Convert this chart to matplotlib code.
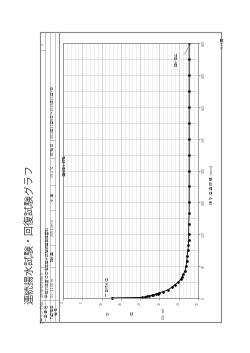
import matplotlib
matplotlib.use("Agg")
import matplotlib.pyplot as plt
from matplotlib.lines import Line2D

plt.rcParams['font.family'] = ['Noto Sans CJK JP', 'DejaVu Sans']

# elapsed pumping time (min) and water level (GL-m)
static_time = [0]
static_level = [12.6]
times = [1, 2, 3, 4, 5, 6, 7, 8, 10, 12, 15, 20, 25, 30, 35, 40, 45, 50, 60,
         70, 80, 90, 100, 110, 120, 140, 160, 180, 210, 240, 270, 300, 330,
         360, 390, 420, 450, 480]
levels = [20.6, 21.3, 21.9, 22.4, 23.0, 23.4, 24.0, 24.5, 25.0, 26.0, 27.1,
          28.2, 29.0, 29.9, 30.5, 30.9, 31.2, 31.6, 31.9, 32.1, 32.2, 32.4,
          32.5, 32.6, 32.6, 32.6, 32.7, 32.7, 32.7, 32.7, 32.7, 32.7, 32.7,
          32.7, 32.7, 32.7, 32.7, 32.7]
level_ticks = [0, 5, 10, 15, 20, 25, 30, 35]
time_ticks = [0, 60, 120, 180, 240, 300, 360, 420, 480]

W, H = 250, 353


def fx(px):
    return px / W


def fy(py):
    return 1 - py / H


def hline(x0, x1, y, lw=0.5, c='#888888'):
    fig.add_artist(Line2D([fx(x0), fx(x1)], [fy(y), fy(y)], lw=lw, color=c))


def vline(x, y0, y1, lw=0.5, c='#888888'):
    fig.add_artist(Line2D([fx(x), fx(x)], [fy(y0), fy(y1)], lw=lw, color=c))


def rtext(x, y, s, size=2.6, va='center', ha='center', **kw):
    fig.text(fx(x), fy(y), s, rotation=90, fontsize=size, va=va, ha=ha,
             color='#444444', **kw)


fig = plt.figure(figsize=(W / 100, H / 100), dpi=100)

# title (page is rotated)
rtext(29, 234, '連続揚水試験・回復試験グラフ', size=7.2)
rtext(222, 43, '1 / 1頁', size=2.6)

# page frame and header table
hline(40, 221, 32, lw=0.8)
hline(40, 221, 322, lw=0.8)
vline(40, 32, 322, lw=0.8)
vline(221, 32, 322, lw=0.8)
for x in [45, 50, 55]:
    vline(x, 32, 322, lw=0.4, c='#999999')
vline(59, 32, 322, lw=0.8)
hline(40, 59, 300, lw=0.4, c='#999999')
hline(40, 45, 267, lw=0.4, c='#999999')
hline(40, 45, 50, lw=0.4, c='#999999')
for y in [267, 245, 210, 185, 158, 140]:
    hline(50, 55, y, lw=0.4, c='#999999')

rtext(42.5, 311, 'ボーリングNo.')
rtext(42.5, 297, '2013(H25)-No.5', va='bottom')
rtext(42.5, 44, '1')
rtext(47.5, 311, '工 事 名')
rtext(47.5, 297, '平成25年度 ○○地区揚水試験調査業務委託', va='bottom')
rtext(52.5, 311, '孔口標高')
rtext(52.5, 297, 'GL- 11.00 m', va='bottom')
rtext(52.5, 256, '揚水量')
rtext(52.5, 228, '265 L/min')
rtext(52.5, 197, '水 温')
rtext(52.5, 171, '15.2 ℃')
rtext(52.5, 149, '試 験 日')
rtext(52.5, 138, '2013年11月8日～2013年11月9日', va='bottom')
rtext(57, 311, '備 考')

# chart
ax = fig.add_axes([fx(63), fy(298), (198 - 63) / W, (298 - 43) / H])
ax.set_xlim(0, 35)
ax.set_ylim(0, 480)
for v in range(0, 36):
    ax.axvline(v, color='#e3e3e3' if v % 5 else '#b5b5b5', lw=0.4, zorder=0)
for t in range(0, 481, 30):
    ax.axhline(t, color='#c8c8c8', lw=0.4, zorder=0)

ax.plot([static_level[0], levels[0]], [static_time[0], times[0]],
        color='black', lw=0.7)
ax.plot(levels, times, color='black', lw=0.6, marker='o', ms=1.9, mew=0)
ax.plot(static_level, static_time, 'o', color='black', ms=2.0, mew=0,
        clip_on=False)

ax.text(static_level[0] - 1.2, 4, '▽ 自然水位', rotation=90, fontsize=2.6,
        va='bottom', ha='center', color='#444444')
ax.text(0.6, 250, '連続揚水試験', rotation=90, fontsize=2.6, va='center',
        ha='center', color='#444444')
ax.annotate('揚水停止', xy=(levels[-1], times[-1]), xytext=(29.5, 450),
            rotation=90, fontsize=2.6, ha='center', va='center', color='#444444',
            arrowprops=dict(arrowstyle='-', color='#777777', lw=0.4,
                            connectionstyle='arc3,rad=0.3'))

ax.set_xticks(level_ticks)
ax.set_yticks(time_ticks)
ax.set_xticklabels([str(v) for v in level_ticks], rotation=90, fontsize=2.6)
ax.set_yticklabels([str(t) for t in time_ticks], rotation=90, fontsize=2.6,
                   va='center')
ax.yaxis.tick_right()
ax.tick_params(length=1.5, width=0.4, pad=1, colors='#666666')
for s in ax.spines.values():
    s.set_color('#777777')
    s.set_linewidth(0.5)

# axis titles
rtext(109, 313, '水', size=2.8)
rtext(133, 313, '位', size=2.8)
rtext(163, 313, '(GL-m)', size=2.8)
rtext(211, 184, '揚 水 経 過 時 間  (min)', size=2.8)

fig.savefig('out.png', dpi=100)
